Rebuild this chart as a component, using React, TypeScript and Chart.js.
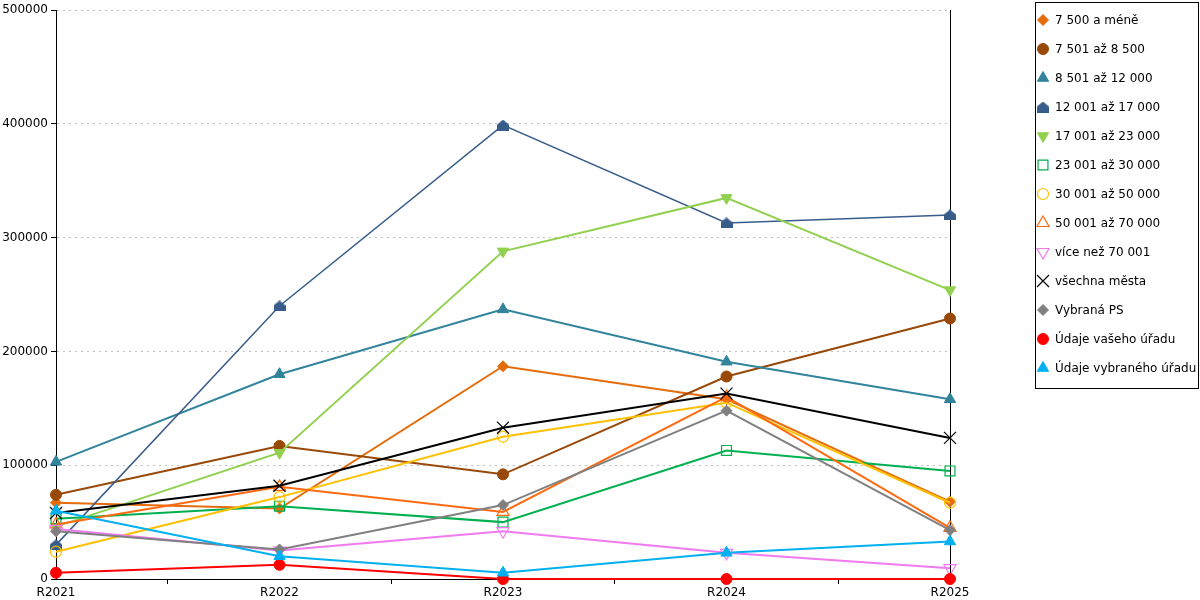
import React, { useEffect, useRef } from 'react';
import { Chart, registerables } from 'chart.js';
import { drawPoint } from 'chart.js/helpers';

Chart.register(...registerables);

const categories = ['R2021', 'R2022', 'R2023', 'R2024', 'R2025'];

const seriesNames = [
  '7 500 a méně',
  '7 501 až 8 500',
  '8 501 až 12 000',
  '12 001 až 17 000',
  '17 001 až 23 000',
  '23 001 až 30 000',
  '30 001 až 50 000',
  '50 001 až 70 000',
  'více než 70 001',
  'všechna města',
  'Vybraná PS',
  'Údaje vašeho úřadu',
  'Údaje vybraného úřadu',
];

const s7500 = [67000, 62000, 187000, 158000, 68000];
const s8500 = [74000, 117000, 92000, 178000, 229000];
const s12000 = [103000, 180000, 237000, 191000, 158000];
const s17000 = [30000, 240000, 399000, 313000, 320000];
const s23000 = [46000, 111000, 288000, 335000, 254000];
const s30000 = [53000, 64000, 50000, 113000, 95000];
const s50000 = [24000, 72000, 125000, 155000, 67000];
const s70000 = [48000, 81000, 59000, 160000, 45000];
const sOver70 = [44000, 25000, 42000, 23000, 9500];
const sAll = [58000, 82000, 133000, 163000, 124000];
const sPS = [42000, 26000, 65000, 148000, 43000];
const sYour = [5500, 12500, 0, 0, 0];
const sSelected = [60000, 20000, 5500, 23000, 33000];

const yTicks = [0, 100000, 200000, 300000, 400000, 500000];

const FONT = 'DejaVu Sans';

function makeHouse(color: string) {
  const c = document.createElement('canvas');
  c.width = 12;
  c.height = 11;
  const g = c.getContext('2d')!;
  g.fillStyle = color;
  g.beginPath();
  g.moveTo(6, 0);
  g.lineTo(12, 5);
  g.lineTo(12, 11);
  g.lineTo(0, 11);
  g.lineTo(0, 5);
  g.closePath();
  g.fill();
  return c;
}

const boxLegend = {
  id: 'boxLegend',
  afterDraw(chart: any) {
    const ctx = chart.ctx as CanvasRenderingContext2D;
    ctx.save();
    ctx.strokeStyle = '#000';
    ctx.lineWidth = 1;
    ctx.strokeRect(1035.5, 2.5, 163, 386);
    ctx.font = `12px "${FONT}"`;
    ctx.textBaseline = 'middle';
    ctx.textAlign = 'left';
    chart.data.datasets.forEach((ds: any, i: number) => {
      const y = 20 + i * 29;
      ctx.save();
      ctx.fillStyle = ds.pointBackgroundColor;
      ctx.strokeStyle = ds.pointBorderColor;
      ctx.lineWidth = ds.pointBorderWidth;
      drawPoint(
        ctx,
        {
          pointStyle: ds.pointStyle,
          rotation: ds.pointRotation || 0,
          radius: ds.pointRadius,
          borderWidth: ds.pointBorderWidth,
        } as any,
        1043,
        y
      );
      ctx.restore();
      ctx.fillStyle = '#000';
      ctx.fillText(ds.label, 1055, y + 1);
    });
    ctx.restore();
  },
};

export default function App() {
  const ref = useRef<HTMLCanvasElement>(null);

  useEffect(() => {
    document.body.style.margin = '0';
    const house = makeHouse('#385D8A');
    const T = 'rgba(0,0,0,0)';
    const defs: any[] = [
      { data: s7500, color: '#E46C0A', style: 'rectRot', r: 5.5, fill: true },
      { data: s8500, color: '#984807', style: 'circle', r: 5.5, fill: true },
      { data: s12000, color: '#31849B', style: 'triangle', r: 6.5, fill: true },
      { data: s17000, color: '#385D8A', style: house, r: 6, fill: true, w: 1.5 },
      { data: s23000, color: '#92D050', style: 'triangle', r: 6.5, fill: true, rot: 180 },
      { data: s30000, color: '#00B050', style: 'rect', r: 7, fill: false },
      { data: s50000, color: '#FFC000', style: 'circle', r: 5.5, fill: false },
      { data: s70000, color: '#FF6A10', style: 'triangle', r: 7, fill: false },
      { data: sOver70, color: '#F07AF0', style: 'triangle', r: 7, fill: false, rot: 180 },
      { data: sAll, color: '#000000', style: 'crossRot', r: 8.5, fill: false },
      { data: sPS, color: '#808080', style: 'rectRot', r: 5.5, fill: true },
      { data: sYour, color: '#FF0000', style: 'circle', r: 5.5, fill: true },
      { data: sSelected, color: '#00B0F0', style: 'triangle', r: 6.5, fill: true },
    ];
    const n = defs.length;
    const datasets = defs.map((d, i) => ({
      label: seriesNames[i],
      data: d.data,
      borderColor: d.color,
      backgroundColor: d.color,
      borderWidth: d.w || 2,
      pointStyle: d.style,
      pointRotation: d.rot || 0,
      pointRadius: d.r,
      pointHoverRadius: d.r,
      pointBackgroundColor: d.fill ? d.color : T,
      pointBorderColor: d.color,
      pointBorderWidth: d.fill ? 1 : 1.2,
      tension: 0,
      fill: false,
      clip: false,
      order: n - i,
    }));

    const chart = new Chart(ref.current!, {
      type: 'line',
      data: { labels: categories, datasets },
      options: {
        responsive: false,
        animation: false,
        events: [],
        layout: { padding: { top: 10, right: 250, left: 0, bottom: 0 } },
        plugins: { legend: { display: false }, tooltip: { enabled: false } },
        scales: {
          x: {
            type: 'category',
            offset: false,
            grid: {
              offset: true,
              drawOnChartArea: false,
              drawTicks: true,
              tickLength: 5,
              color: '#000',
              tickColor: '#000',
            },
            border: { color: '#000', width: 1 },
            ticks: {
              color: '#000',
              font: { family: FONT, size: 12 },
              padding: 2,
              maxRotation: 0,
              autoSkip: false,
            },
            afterFit(s: any) {
              s.height = 21;
            },
          },
          y: {
            min: yTicks[0],
            max: yTicks[yTicks.length - 1],
            afterBuildTicks(s: any) {
              s.ticks = yTicks.map((v) => ({ value: v }));
            },
            ticks: {
              color: '#000',
              font: { family: FONT, size: 12 },
              padding: 3,
              callback: (v: any) => String(v),
            },
            grid: { color: '#c0c0c0', tickColor: '#000', tickLength: 5, lineWidth: 1 },
            border: { color: '#000', dash: [2, 4], width: 1 },
            afterFit(s: any) {
              s.width = 56;
            },
          },
          y2: {
            position: 'right',
            min: 0,
            max: 500000,
            ticks: { display: false },
            grid: { display: false },
            border: { display: true, color: '#000', width: 1 },
            afterFit(s: any) {
              s.width = 0;
            },
          },
        },
      },
      plugins: [boxLegend],
    } as any);

    return () => chart.destroy();
  }, []);

  return (
    <div style={{ position: 'fixed', left: 0, top: 0, width: 1200, height: 600, background: '#fff' }}>
      <canvas ref={ref} width={1200} height={600} style={{ width: 1200, height: 600, display: 'block' }} />
    </div>
  );
}
